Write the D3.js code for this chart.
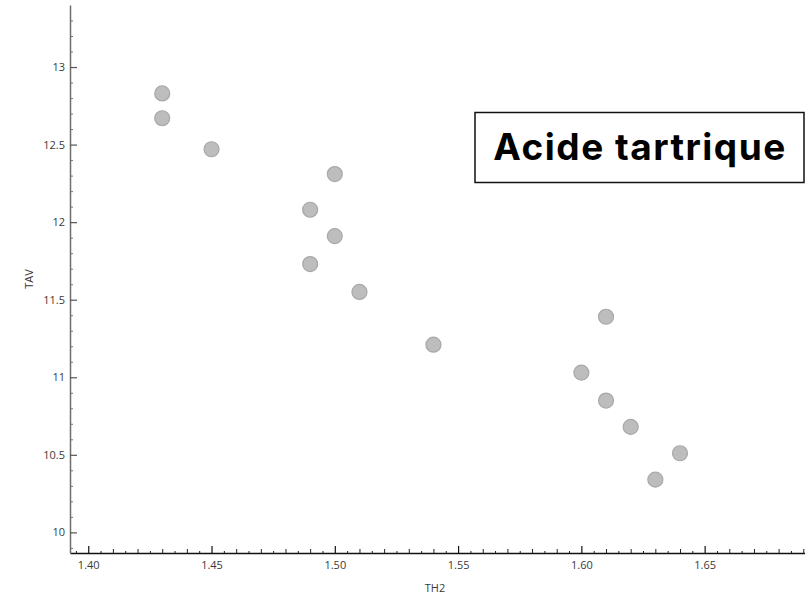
<!DOCTYPE html>
<html>
<head>
<meta charset="utf-8">
<script src="https://cdn.jsdelivr.net/npm/d3@7"></script>
<style>
  html, body { margin: 0; padding: 0; background: #fff; }
  svg { display: block; }
  .tick text { font-family: "Open Sans", "Noto Sans", sans-serif; font-size: 11px; fill: #3a3a3a; }
</style>
</head>
<body>
<svg id="chart" width="805" height="597"></svg>
<script>
// Samples: TH2 against TAV
const th2 = [1.43, 1.43, 1.45, 1.50, 1.49, 1.50, 1.49, 1.51, 1.54, 1.61, 1.60, 1.61, 1.62, 1.64, 1.63];
const tav = [12.83, 12.67, 12.47, 12.31, 12.08, 11.91, 11.73, 11.55, 11.21, 11.39, 11.03, 10.85, 10.68, 10.51, 10.34];
const xTicks = [1.40, 1.45, 1.50, 1.55, 1.60, 1.65];
const yTicks = [10, 10.5, 11, 11.5, 12, 12.5, 13];
const xTitle = "TH2";
const yTitle = "TAV";
const noteText = "Acide tartrique";

const svg = d3.select("#chart");
const plotLeft = 70, plotRight = 805, plotTop = 5, plotBottom = 553;

const x = d3.scaleLinear().domain([1.3926, 1.6907]).range([plotLeft, plotRight]);
const y = d3.scaleLinear().domain([9.867, 13.4]).range([plotBottom, plotTop]);

// Minor ticks
const xMinor = d3.range(1.395, 1.6905, 0.005).map(v => +v.toFixed(3));
const xSmall = xMinor.filter(v => Math.round(v * 1000) % 10 !== 0);
const xMid = xMinor.filter(v => Math.round(v * 1000) % 10 === 0 && Math.round(v * 1000) % 50 !== 0);
const yMinor = d3.range(9.9, 13.4, 0.1).map(v => +v.toFixed(1)).filter(v => Math.round(v * 10) % 5 !== 0);

// X axis
const gx = svg.append("g").attr("transform", `translate(0,${plotBottom})`);
gx.append("g").call(d3.axisBottom(x).tickValues(xSmall).tickSize(-2).tickFormat(""))
  .call(g => g.select(".domain").remove())
  .call(g => g.selectAll("line").attr("stroke", "#222"));
gx.append("g").call(d3.axisBottom(x).tickValues(xMid).tickSize(-4).tickFormat(""))
  .call(g => g.select(".domain").remove())
  .call(g => g.selectAll("line").attr("stroke", "#222"));
gx.append("g").call(d3.axisBottom(x).tickValues(xTicks).tickSizeInner(-7).tickSizeOuter(0)
    .tickPadding(8).tickFormat(d3.format(".2f")))
  .call(g => g.select(".domain").attr("stroke", "#111").attr("stroke-width", 1.5))
  .call(g => g.selectAll(".tick line").attr("stroke", "#111").attr("stroke-width", 1.2));

// Y axis
const gy = svg.append("g").attr("transform", `translate(${plotLeft},0)`);
gy.append("g").call(d3.axisLeft(y).tickValues(yMinor).tickSize(-3).tickFormat(""))
  .call(g => g.select(".domain").remove())
  .call(g => g.selectAll("line").attr("stroke", "#777"));
gy.append("g").call(d3.axisLeft(y).tickValues(yTicks).tickSizeInner(-7).tickSizeOuter(0)
    .tickPadding(5).tickFormat(d => d3.format("~g")(d)))
  .call(g => g.select(".domain").attr("stroke", "#6e6e6e").attr("stroke-width", 1.5))
  .call(g => g.selectAll(".tick line").attr("stroke", "#555").attr("stroke-width", 1.2));

// Axis titles
svg.append("text")
  .attr("x", 435).attr("y", 592)
  .attr("text-anchor", "middle")
  .style("font-family", "'Open Sans','Noto Sans',sans-serif").style("font-size", "11px").style("fill", "#3a3a3a")
  .text(xTitle);
svg.append("text")
  .attr("transform", `translate(33,${(plotTop + plotBottom) / 2}) rotate(-90)`)
  .attr("text-anchor", "middle")
  .style("font-family", "'Open Sans','Noto Sans',sans-serif").style("font-size", "11px").style("fill", "#3a3a3a")
  .text(yTitle);

// Points
const pts = th2.map((v, i) => ({ x: v, y: tav[i] }));
svg.append("g").selectAll("circle").data(pts).join("circle")
  .attr("cx", d => x(d.x)).attr("cy", d => y(d.y)).attr("r", 7.5)
  .attr("fill", "#bdbdbd").attr("stroke", "#a8a8a8").attr("stroke-width", 1.2);

// Annotation box
const note = svg.append("g");
note.append("rect").attr("x", 475).attr("y", 112.5).attr("width", 329).attr("height", 70)
  .attr("fill", "#fff").attr("stroke", "#111").attr("stroke-width", 1.5);
note.append("text").attr("x", 640).attr("y", 159.5).attr("text-anchor", "middle")
  .style("font-family", "Inter, 'Open Sans', sans-serif").style("font-weight", "700")
  .style("font-size", "37px").style("letter-spacing", "1.5px").style("fill", "#000")
  .text(noteText);
</script>
</body>
</html>
